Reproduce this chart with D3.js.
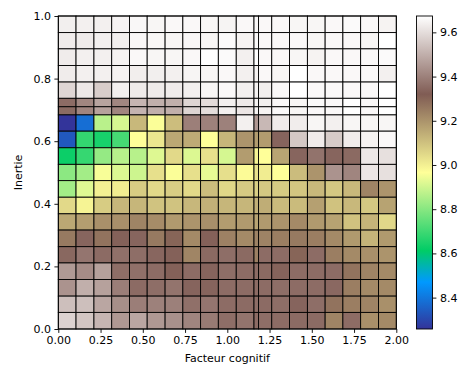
<!DOCTYPE html>
<html>
<head>
<meta charset="utf-8">
<script src="https://cdn.jsdelivr.net/npm/d3@7"></script>
<style>
  body { margin: 0; background: #fff; }
  svg { display: block; font-family: 'DejaVu Sans', sans-serif; }
  .tick text { font-family: 'DejaVu Sans', sans-serif; font-size: 11px; fill: #000; }
  .tick line { stroke: #000; stroke-width: 0.9; }
</style>
</head>
<body>
<script>
  // cell edges (pcolormesh style grid, one extra edge at the optimum)
  const xEdges = [0, 0.105, 0.211, 0.316, 0.421, 0.526, 0.632, 0.737, 0.842, 0.947,
    1.053, 1.158, 1.185, 1.263, 1.368, 1.474, 1.579, 1.684, 1.789, 1.895, 2.0];
  const yEdges = [0, 0.053, 0.105, 0.158, 0.211, 0.263, 0.316, 0.368, 0.421, 0.474,
    0.526, 0.579, 0.632, 0.684, 0.710, 0.737, 0.789, 0.842, 0.895, 0.947, 1.0];

  // cell values, rows from the top (y = 1.0) down to y = 0
  const values = [
    [9.639, 9.641, 9.641, 9.649, 9.657, 9.654, 9.659, 9.659, 9.656, 9.650, 9.659, 9.659, 9.659, 9.659, 9.654, 9.654, 9.659, 9.663, 9.659, 9.648],
    [9.632, 9.630, 9.641, 9.639, 9.657, 9.656, 9.654, 9.657, 9.654, 9.663, 9.648, 9.663, 9.659, 9.659, 9.659, 9.654, 9.659, 9.659, 9.654, 9.674],
    [9.632, 9.641, 9.641, 9.648, 9.659, 9.654, 9.654, 9.659, 9.674, 9.663, 9.641, 9.674, 9.659, 9.659, 9.654, 9.648, 9.659, 9.659, 9.659, 9.663],
    [9.632, 9.641, 9.641, 9.648, 9.637, 9.639, 9.641, 9.652, 9.654, 9.659, 9.641, 9.648, 9.659, 9.654, 9.674, 9.659, 9.659, 9.659, 9.659, 9.641],
    [9.585, 9.625, 9.565, 9.641, 9.630, 9.630, 9.632, 9.641, 9.654, 9.659, 9.641, 9.648, 9.639, 9.659, 9.674, 9.659, 9.659, 9.659, 9.659, 9.674],
    [9.355, 9.411, 9.474, 9.411, 9.514, 9.500, 9.500, 9.583, 9.598, 9.641, 9.629, 9.648, 9.641, 9.659, 9.654, 9.663, 9.659, 9.674, 9.659, 9.674],
    [9.352, 9.408, 9.470, 9.410, 9.510, 9.500, 9.500, 9.580, 9.600, 9.641, 9.620, 9.648, 9.648, 9.659, 9.654, 9.659, 9.659, 9.674, 9.659, 9.674],
    [8.260, 8.380, 8.869, 8.909, 9.120, 8.960, 9.109, 9.397, 9.400, 9.400, 9.641, 9.450, 9.520, 9.631, 9.634, 9.654, 9.641, 9.654, 9.654, 9.654],
    [8.335, 8.683, 8.644, 8.709, 8.966, 9.018, 9.155, 9.148, 8.966, 9.124, 9.198, 9.181, 9.181, 9.338, 9.554, 9.631, 9.560, 9.632, 9.648, 9.659],
    [8.628, 8.687, 8.819, 8.866, 8.866, 8.920, 9.048, 8.918, 9.033, 8.908, 9.181, 8.990, 8.966, 9.163, 9.340, 9.370, 9.340, 9.350, 9.624, 9.606],
    [8.806, 8.838, 8.956, 8.918, 8.896, 9.033, 8.960, 9.033, 8.933, 9.035, 8.975, 9.027, 9.005, 8.966, 9.111, 9.198, 9.440, 9.410, 9.620, 9.606],
    [8.838, 8.922, 8.999, 9.005, 9.077, 9.048, 9.074, 9.048, 9.109, 9.053, 9.081, 9.068, 9.085, 9.079, 9.090, 9.120, 9.085, 9.120, 9.233, 9.198],
    [9.048, 8.990, 9.077, 9.124, 9.124, 9.096, 9.096, 9.122, 9.137, 9.124, 9.124, 9.137, 9.144, 9.114, 9.114, 9.172, 9.098, 9.120, 9.085, 9.166],
    [9.155, 9.176, 9.207, 9.209, 9.233, 9.215, 9.185, 9.198, 9.209, 9.180, 9.185, 9.163, 9.185, 9.198, 9.220, 9.185, 9.166, 9.098, 9.128, 9.050],
    [9.255, 9.340, 9.270, 9.330, 9.340, 9.255, 9.300, 9.220, 9.330, 9.240, 9.220, 9.235, 9.235, 9.246, 9.255, 9.246, 9.220, 9.185, 9.128, 9.185],
    [9.345, 9.375, 9.353, 9.364, 9.359, 9.342, 9.330, 9.231, 9.350, 9.360, 9.350, 9.243, 9.355, 9.355, 9.300, 9.355, 9.246, 9.220, 9.207, 9.198],
    [9.455, 9.425, 9.470, 9.359, 9.364, 9.355, 9.330, 9.355, 9.338, 9.359, 9.355, 9.355, 9.350, 9.335, 9.355, 9.355, 9.355, 9.270, 9.233, 9.220],
    [9.440, 9.500, 9.470, 9.394, 9.353, 9.359, 9.372, 9.338, 9.338, 9.355, 9.355, 9.355, 9.355, 9.359, 9.355, 9.355, 9.347, 9.246, 9.220, 9.220],
    [9.535, 9.535, 9.481, 9.430, 9.394, 9.400, 9.399, 9.364, 9.375, 9.355, 9.353, 9.359, 9.353, 9.359, 9.338, 9.359, 9.270, 9.246, 9.233, 9.207],
    [9.577, 9.550, 9.514, 9.450, 9.481, 9.450, 9.435, 9.410, 9.387, 9.359, 9.372, 9.355, 9.359, 9.355, 9.353, 9.353, 9.233, 9.355, 9.207, 9.220]
  ];

  const xTicks = [0, 0.25, 0.5, 0.75, 1.0, 1.25, 1.5, 1.75, 2.0];
  const yTicks = [0, 0.2, 0.4, 0.6, 0.8, 1.0];
  const cbTicks = [8.4, 8.6, 8.8, 9.0, 9.2, 9.4, 9.6];
  const vmin = 8.258;
  const vmax = 9.674;

  // matplotlib "terrain" colormap anchors
  const terrainStops = [0, 0.15, 0.25, 0.5, 0.75, 1];
  const terrainColors = ['#333399', '#0099ff', '#00cc66', '#ffff99', '#805c54', '#ffffff'];

  const width = 464;
  const height = 367;
  const margin = { top: 16, right: 68, bottom: 38, left: 58.3 };

  const svg = d3.select('body')
    .append('svg')
    .attr('width', width)
    .attr('height', height);

  const x = d3.scaleLinear().domain([0, 2]).range([margin.left, 396.3]);
  const y = d3.scaleLinear().domain([0, 1]).range([height - margin.bottom, margin.top]);

  const color = d3.scaleLinear()
    .domain(terrainStops.map((t) => vmin + t * (vmax - vmin)))
    .range(terrainColors)
    .interpolate(d3.interpolateRgb)
    .clamp(true);

  const cells = [];
  values.forEach((row, r) => {
    const j = values.length - 1 - r;
    row.forEach((v, i) => {
      cells.push({ x0: xEdges[i], x1: xEdges[i + 1], y0: yEdges[j], y1: yEdges[j + 1], v });
    });
  });

  svg.append('g')
    .selectAll('rect')
    .data(cells)
    .join('rect')
    .attr('x', (d) => x(d.x0))
    .attr('y', (d) => y(d.y1))
    .attr('width', (d) => x(d.x1) - x(d.x0))
    .attr('height', (d) => y(d.y0) - y(d.y1))
    .attr('fill', (d) => color(d.v))
    .attr('stroke', '#000')
    .attr('stroke-width', 0.9);

  // frame
  svg.append('rect')
    .attr('x', x(0))
    .attr('y', y(1))
    .attr('width', x(2) - x(0))
    .attr('height', y(0) - y(1))
    .attr('fill', 'none')
    .attr('stroke', '#000')
    .attr('stroke-width', 0.9);

  const xAxis = svg.append('g')
    .attr('transform', `translate(0,${y(0)})`)
    .call(d3.axisBottom(x).tickValues(xTicks).tickFormat(d3.format('.2f')).tickSize(3.9).tickPadding(3.5));
  xAxis.select('.domain').remove();

  const yAxis = svg.append('g')
    .attr('transform', `translate(${x(0)},0)`)
    .call(d3.axisLeft(y).tickValues(yTicks).tickFormat(d3.format('.1f')).tickSize(3.9).tickPadding(3.5));
  yAxis.select('.domain').remove();

  svg.append('text')
    .attr('x', (x(0) + x(2)) / 2)
    .attr('y', 362)
    .attr('text-anchor', 'middle')
    .attr('font-size', 11)
    .text('Facteur cognitif');

  svg.append('text')
    .attr('transform', `translate(22,${(y(0) + y(1)) / 2}) rotate(-90)`)
    .attr('text-anchor', 'middle')
    .attr('font-size', 11)
    .text('Inertie');

  // colorbar
  const cbX = 416.5;
  const cbW = 16;
  const cb = d3.scaleLinear().domain([vmin, vmax]).range([y(0), y(1)]);

  const grad = svg.append('defs')
    .append('linearGradient')
    .attr('id', 'terrain')
    .attr('x1', 0).attr('y1', 1)
    .attr('x2', 0).attr('y2', 0);
  grad.selectAll('stop')
    .data(terrainStops)
    .join('stop')
    .attr('offset', (d) => d)
    .attr('stop-color', (d, i) => terrainColors[i]);

  svg.append('rect')
    .attr('x', cbX)
    .attr('y', cb(vmax))
    .attr('width', cbW)
    .attr('height', cb(vmin) - cb(vmax))
    .attr('fill', 'url(#terrain)')
    .attr('stroke', '#000')
    .attr('stroke-width', 0.9);

  const cbAxis = svg.append('g')
    .attr('transform', `translate(${cbX + cbW},0)`)
    .call(d3.axisRight(cb).tickValues(cbTicks).tickFormat(d3.format('.1f')).tickSize(3.9).tickPadding(3.5));
  cbAxis.select('.domain').remove();
</script>
</body>
</html>
